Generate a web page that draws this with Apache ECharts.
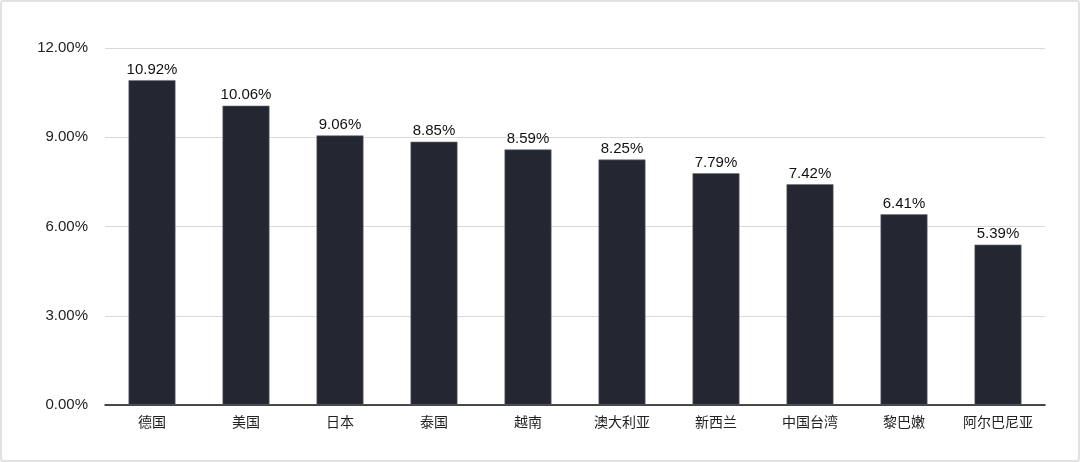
<!DOCTYPE html>
<html><head><meta charset="utf-8">
<script src="https://cdn.jsdelivr.net/npm/echarts@6/dist/echarts.min.js"></script>
<style>
html,body{margin:0;padding:0;background:#fff;}
#c{width:1080px;height:462px;box-sizing:border-box;border:2px solid #e2e2e2;border-radius:3px;}
</style></head>
<body><div id="c"></div>
<script>
const categories = ['德国','美国','日本','泰国','越南','澳大利亚','新西兰','中国台湾','黎巴嫩','阿尔巴尼亚'];
const values = [10.92, 10.06, 9.06, 8.85, 8.59, 8.25, 7.79, 7.42, 6.41, 5.39];
const yTicks = [0, 3, 6, 9, 12];

const chart = echarts.init(document.getElementById('c'));
chart.setOption({
  animation: false,
  grid: {left: 103, right: 33, top: 46, bottom: 55},
  xAxis: {
    type: 'category', data: categories,
    axisLine: {lineStyle: {color: '#111', width: 1.5}},
    axisTick: {show: false},
    axisLabel: {color: '#222', fontSize: 14, margin: 10, fontFamily: 'Noto Sans CJK SC'}
  },
  yAxis: {
    type: 'value', min: yTicks[0], max: yTicks[yTicks.length-1], interval: 3,
    axisLine: {show: false}, axisTick: {show: false},
    splitLine: {lineStyle: {color: '#d9d9d9', width: 1}},
    axisLabel: {color: '#222', fontSize: 15, margin: 17, fontFamily: 'Helvetica, Arial, Liberation Sans, sans-serif',
      formatter: v => v.toFixed(2) + '%'}
  },
  series: [{
    type: 'bar', data: values, barWidth: '50%',
    itemStyle: {color: '#242632', borderColor: '#6e707a', borderWidth: 0.6},
    label: {show: true, position: 'top', distance: 3, color: '#111', fontSize: 15,
      fontFamily: 'Helvetica, Arial, Liberation Sans, sans-serif',
      formatter: p => p.value.toFixed(2) + '%'}
  }]
});
</script></body></html>
